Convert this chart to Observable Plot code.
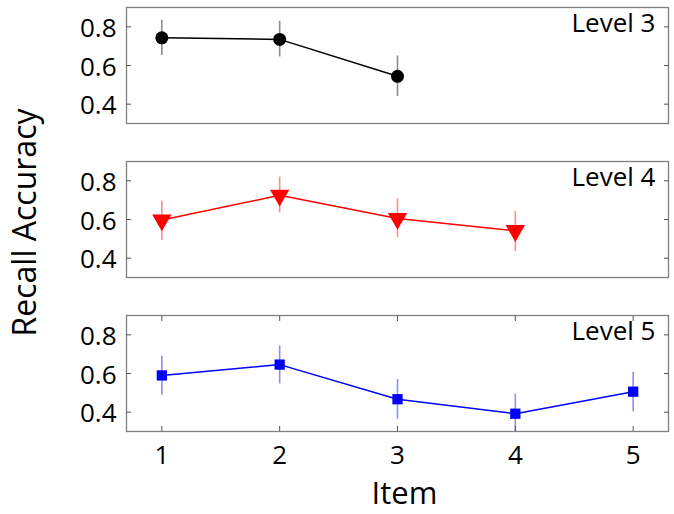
<!DOCTYPE html>
<html>
<head>
<meta charset="utf-8">
<script src="https://cdn.jsdelivr.net/npm/d3@7"></script>
<script src="https://cdn.jsdelivr.net/npm/@observablehq/plot@0.6"></script>
<style>
  html, body { margin: 0; padding: 0; background: white; }
  #chart { width: 674px; height: 514px; }
</style>
</head>
<body>
<div id="chart"></div>
<script>
// ---- data ----
const items = [1, 2, 3, 4, 5];
const levels = [3, 4, 5];
const yTicks = [0.4, 0.6, 0.8];

const level3Mean = [0.743, 0.735, 0.544];
const level3Lo   = [0.652, 0.644, 0.439];
const level3Hi   = [0.834, 0.829, 0.649];

const level4Mean = [0.597, 0.725, 0.605, 0.542];
const level4Lo   = [0.491, 0.634, 0.506, 0.435];
const level4Hi   = [0.694, 0.819, 0.707, 0.642];

const level5Mean = [0.590, 0.646, 0.467, 0.392, 0.506];
const level5Lo   = [0.487, 0.546, 0.363, 0.290, 0.402];
const level5Hi   = [0.689, 0.743, 0.569, 0.494, 0.606];

function rows(level, mean, lo, hi) {
  return mean.map((v, i) => ({level, item: items[i], value: v, lo: lo[i], hi: hi[i]}));
}
const rows3 = rows(3, level3Mean, level3Lo, level3Hi);
const rows4 = rows(4, level4Mean, level4Lo, level4Hi);
const rows5 = rows(5, level5Mean, level5Lo, level5Hi);

const series = [
  {data: rows3, color: "black", err: "#8c8c8c", symbol: "circle", r: 6.5, rotate: 0},
  {data: rows4, color: "#ff0000", err: "#ff8c8c", symbol: "triangle", r: 7.2, rotate: 180},
  {data: rows5, color: "#0000ff", err: "#8c8cff", symbol: "square", r: 5.8, rotate: 0}
];

const frameColor = "#808080";

const marks = [];
for (const s of series) {
  marks.push(Plot.ruleX(s.data, {x: "item", y1: "lo", y2: "hi", fy: "level", stroke: s.err, strokeWidth: 1.6, clip: true}));
}
for (const s of series) {
  marks.push(Plot.line(s.data, {x: "item", y: "value", fy: "level", stroke: s.color, strokeWidth: 1.5}));
}
for (const s of series) {
  marks.push(Plot.dot(s.data, {x: "item", y: "value", fy: "level", symbol: s.symbol, r: s.r, rotate: s.rotate, fill: s.color, stroke: "none"}));
}

marks.push(
  Plot.frame({stroke: frameColor, strokeWidth: 1.3}),
  // y tick labels
  Plot.axisY({anchor: "left", ticks: yTicks, tickSize: 0, tickPadding: 10, dy: 2, tickFormat: d => d.toFixed(1), label: null}),
  // inward y ticks, left and right
  Plot.axisY({anchor: "left", ticks: yTicks, tickSize: -5, tickFormat: () => "", label: null, stroke: "#555"}),
  Plot.axisY({anchor: "right", ticks: yTicks, tickSize: -5, tickFormat: () => "", label: null, stroke: "#555"}),
  // x axis on the bottom panel
  Plot.axisX({anchor: "bottom", ticks: items, tickSize: 0, tickPadding: 14, tickFormat: d => String(d), label: null}),
  Plot.axisX({anchor: "bottom", ticks: items, tickSize: -5, tickFormat: () => "", label: null, stroke: "#555"}),
  Plot.axisX({anchor: "top", facetAnchor: "bottom", ticks: items, tickSize: -5, tickFormat: () => "", label: null, stroke: "#555"}),
  // panel titles
  Plot.text(levels, {fy: d => d, text: d => `Level ${d}`, frameAnchor: "top-right", textAnchor: "end", lineAnchor: "top", dx: -13, dy: 6}),
  // axis titles
  Plot.text(["Recall Accuracy"], {fy: () => 4, text: d => d, frameAnchor: "left", textAnchor: "middle", lineAnchor: "middle", rotate: -90, dx: -101, dy: 3, fontSize: 32}),
  Plot.text(["Item"], {fy: () => 5, text: d => d, frameAnchor: "bottom", textAnchor: "middle", lineAnchor: "middle", dy: 63, dx: 7, fontSize: 31})
);

const chart = Plot.plot({
  width: 674,
  height: 514,
  marginLeft: 126,
  marginRight: 6,
  marginTop: 6,
  marginBottom: 81,
  style: {fontFamily: "'Open Sans', sans-serif", fontSize: "26px", background: "white", color: "black", overflow: "visible"},
  x: {domain: [0.7, 5.3], axis: null},
  y: {domain: [0.3, 0.9], axis: null},
  fy: {domain: levels, paddingInner: 0.245, paddingOuter: 0, axis: null, label: null},
  marks
});
document.getElementById("chart").appendChild(chart);
</script>
</body>
</html>
